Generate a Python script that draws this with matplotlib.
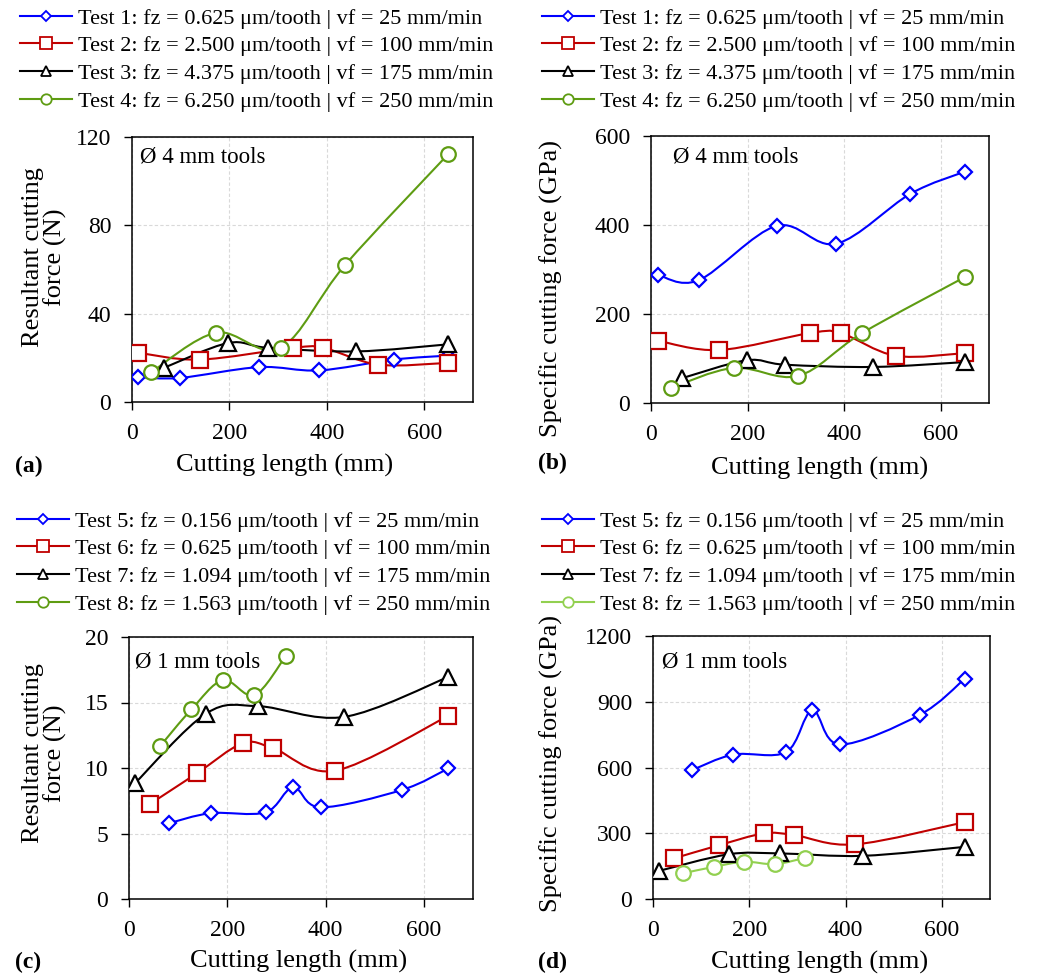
import numpy as np
import matplotlib.pyplot as plt
from matplotlib.path import Path
from matplotlib.patches import PathPatch
from matplotlib.lines import Line2D

plt.rcParams['font.family'] = ['Liberation Serif', 'DejaVu Serif']

# ===== DATA =====
# panel (a): resultant cutting force, 4 mm tools
a1_x = [13, 98, 261, 384, 537, 648]
a1_y = [11.3, 10.9, 15.8, 14.3, 19.2, 21.0]
a2_x = [13, 139, 330, 393, 506, 648]
a2_y = [22.3, 19.2, 24.5, 24.5, 16.9, 17.7]
a3_x = [66, 197, 280, 460, 648]
a3_y = [15.5, 26.7, 24.5, 22.9, 26.1]
a4_x = [40, 173, 305, 438, 649]
a4_y = [13.6, 31.4, 24.5, 62.2, 112.2]

# panel (b): specific cutting force, 4 mm tools
b1_x = [14, 99, 260, 384, 537, 650]
b1_y = [288, 276, 398, 358, 470, 520]
b2_x = [14, 141, 329, 393, 507, 650]
b2_y = [140, 119, 157, 157, 106, 112]
b3_x = [65, 198, 278, 460, 651]
b3_y = [56, 96, 86, 81, 92]
b4_x = [41, 172, 305, 437, 650]
b4_y = [34, 79, 61, 157, 283]

# panel (c): resultant cutting force, 1 mm tools
c5_x = [82, 166, 278, 334, 390, 555, 650]
c5_y = [5.79, 6.55, 6.62, 8.53, 7.0, 8.32, 9.97]
c6_x = [43, 138, 231, 294, 420, 649]
c6_y = [7.26, 9.59, 11.88, 11.5, 9.8, 13.96]
c7_x = [12, 157, 263, 438, 650]
c7_y = [8.83, 14.16, 14.72, 13.9, 16.95]
c8_x = [64, 127, 191, 255, 319]
c8_y = [11.7, 14.47, 16.7, 15.56, 18.55]

# panel (d): specific cutting force, 1 mm tools
d5_x = [81, 167, 277, 331, 388, 554, 648]
d5_y = [588, 659, 671, 861, 705, 840, 1006]
d6_x = [43, 138, 230, 293, 419, 648]
d6_y = [185, 246, 299, 292, 249, 351]
d7_x = [12, 157, 263, 436, 648]
d7_y = [128, 204, 208, 197, 238]
d8_x = [62, 127, 190, 253, 316]
d8_y = [117, 147, 170, 159, 188]

labels_4mm = [
    "Test 1: fz = 0.625 μm/tooth | vf = 25 mm/min",
    "Test 2: fz = 2.500 μm/tooth | vf = 100 mm/min",
    "Test 3: fz = 4.375 μm/tooth | vf = 175 mm/min",
    "Test 4: fz = 6.250 μm/tooth | vf = 250 mm/min",
]
labels_1mm = [
    "Test 5: fz = 0.156 μm/tooth | vf = 25 mm/min",
    "Test 6: fz = 0.625 μm/tooth | vf = 100 mm/min",
    "Test 7: fz = 1.094 μm/tooth | vf = 175 mm/min",
    "Test 8: fz = 1.563 μm/tooth | vf = 250 mm/min",
]

BLUE, RED, BLACK = "#0000FF", "#C00000", "#000000"
GREEN, LIGHT_GREEN = "#5E9C12", "#92D050"
MARKERS = ["D", "s", "^", "o"]
MSIZE = [7.5, 12, 12, 10.5]
LEG_MSIZE = [5.5, 8, 7, 7.5]

W, H = 1043, 975


def smooth_path(x, y):
    # Excel-like smoothed line: cubic Bezier through the points
    pts = np.column_stack([x, y]).astype(float)
    n = len(pts)
    verts = [pts[0]]
    codes = [Path.MOVETO]
    for i in range(n - 1):
        p0 = pts[i - 1] if i > 0 else pts[i]
        p1 = pts[i]
        p2 = pts[i + 1]
        p3 = pts[i + 2] if i + 2 < n else pts[i + 1]
        verts += [p1 + (p2 - p0) / 6, p2 - (p3 - p1) / 6, p2]
        codes += [Path.CURVE4] * 3
    return Path(verts, codes)


def draw_series(ax, x, y, color, k):
    ax.add_patch(PathPatch(smooth_path(x, y), facecolor="none", edgecolor=color, lw=1.5, zorder=3))
    ax.plot(x, y, ls="none", marker=MARKERS[k], ms=MSIZE[k], mfc="white", mec=color, mew=1.6, zorder=4)


def px_axes(l, r, t, b):
    return fig.add_axes([l / W, 1 - b / H, (r - l) / W, (b - t) / H])


def style_axis(ax, ymax, ystep, ylabel, ylab_xy, xlab_xy, note, note_xy):
    ax.set_xlim(0, 700)
    ax.set_ylim(0, ymax)
    ax.set_xticks([0, 200, 400, 600])
    ax.set_yticks(np.arange(0, ymax + 1, ystep))
    ax.grid(True, color="#d9d9d9", ls=(0, (3, 2)), lw=0.8)
    ax.set_axisbelow(True)
    ax.tick_params(direction="out", length=6, width=1, labelsize=17, pad=9)
    for s in ax.spines.values():
        s.set_linewidth(1.1)
    ax.set_xlabel("Cutting length (mm)", fontsize=19)
    ax.xaxis.label.set_va("center")
    ax.xaxis.set_label_coords(*xlab_xy)
    ax.set_ylabel(ylabel, fontsize=19, linespacing=1.0)
    ax.yaxis.set_label_coords(*ylab_xy)
    ax.text(note_xy[0], note_xy[1], note, transform=ax.transAxes, fontsize=16.5, va="center", ha="left")


def add_legend(labels, colors, x0, y0):
    handles = [Line2D([], [], color=c, lw=1.5, marker=m, ms=s, mfc="white", mec=c, mew=1.3)
               for c, m, s in zip(colors, MARKERS, LEG_MSIZE)]
    fig.legend(handles, labels, loc="upper left", bbox_to_anchor=(x0 / W, 1 - y0 / H),
               frameon=False, fontsize=16, handlelength=2.35, handletextpad=0.27,
               labelspacing=0.32, borderpad=0, borderaxespad=0)


fig = plt.figure(figsize=(W / 100, H / 100), dpi=100)

# ===== (a) =====
ax_a = px_axes(132, 473, 137, 402)
for k, (x, y, c) in enumerate([(a1_x, a1_y, BLUE), (a2_x, a2_y, RED), (a3_x, a3_y, BLACK), (a4_x, a4_y, GREEN)]):
    draw_series(ax_a, x, y, c, k)
style_axis(ax_a, 120, 40, "Resultant cutting\nforce (N)", (-0.19, 0.547), (0.446, -0.24),
           "Ø 4 mm tools", (0.023, 0.925))
add_legend(labels_4mm, [BLUE, RED, BLACK, GREEN], 20, 8)

# ===== (b) =====
ax_b = px_axes(651, 989, 136, 403)
for k, (x, y, c) in enumerate([(b1_x, b1_y, BLUE), (b2_x, b2_y, RED), (b3_x, b3_y, BLACK), (b4_x, b4_y, GREEN)]):
    draw_series(ax_b, x, y, c, k)
style_axis(ax_b, 600, 200, "Specific cutting force (GPa)", (-0.26, 0.43), (0.5, -0.245),
           "Ø 4 mm tools", (0.065, 0.92))
add_legend(labels_4mm, [BLUE, RED, BLACK, GREEN], 542, 8)

# ===== (c) =====
ax_c = px_axes(129, 473, 637, 899)
for k, (x, y, c) in enumerate([(c5_x, c5_y, BLUE), (c6_x, c6_y, RED), (c7_x, c7_y, BLACK), (c8_x, c8_y, GREEN)]):
    draw_series(ax_c, x, y, c, k)
style_axis(ax_c, 20, 5, "Resultant cutting\nforce (N)", (-0.18, 0.557), (0.494, -0.24),
           "Ø 1 mm tools", (0.017, 0.905))
add_legend(labels_1mm, [BLUE, RED, BLACK, GREEN], 17, 511)

# ===== (d) =====
ax_d = px_axes(653, 990, 636, 899)
for k, (x, y, c) in enumerate([(d5_x, d5_y, BLUE), (d6_x, d6_y, RED), (d7_x, d7_y, BLACK), (d8_x, d8_y, LIGHT_GREEN)]):
    draw_series(ax_d, x, y, c, k)
style_axis(ax_d, 1200, 300, "Specific cutting force (GPa)", (-0.267, 0.517), (0.493, -0.24),
           "Ø 1 mm tools", (0.027, 0.90))
add_legend(labels_1mm, [BLUE, RED, BLACK, LIGHT_GREEN], 542, 511)

# panel letters
for lab, (x, y) in zip(["(a)", "(b)", "(c)", "(d)"], [(15, 466), (538, 463), (15, 962), (538, 962)]):
    fig.text(x / W, 1 - y / H, lab, fontsize=17, fontweight="bold", va="center", ha="left")

fig.savefig("out.png", dpi=100)
